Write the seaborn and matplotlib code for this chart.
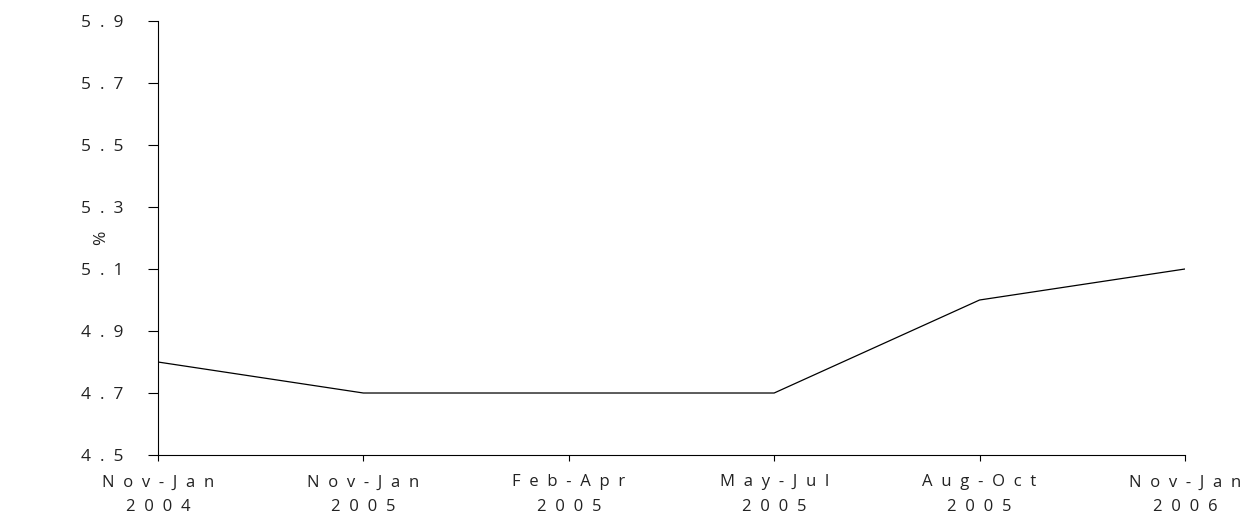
import matplotlib
matplotlib.use("Agg")
import matplotlib.pyplot as plt
import numpy as np
import pandas as pd
import seaborn as sns

periods = ["Nov-Jan", "Nov-Jan", "Feb-Apr", "May-Jul", "Aug-Oct", "Nov-Jan"]
years = ["2004", "2005", "2005", "2005", "2005", "2006"]
rate = [4.8, 4.7, 4.7, 4.7, 5.0, 5.1]
y_ticks = [4.5, 4.7, 4.9, 5.1, 5.3, 5.5, 5.7, 5.9]


def spaced(s):
    # the original draws its labels with wide letter spacing
    return "  ".join(s)


df = pd.DataFrame({"pos": np.arange(len(rate)), "rate": rate})

sns.set_style("white")
plt.rcParams["font.family"] = ["Open Sans", "DejaVu Sans"]

fig = plt.figure(figsize=(12.4, 5.17), dpi=100)
ax = fig.add_axes([0.1274, 0.1199, 0.8282, 0.8395])

sns.lineplot(data=df, x="pos", y="rate", ax=ax, color="black", linewidth=0.9)

ax.set_xlim(0, len(rate) - 1)
ax.set_ylim(4.5, 5.9)
ax.set_xticks(df["pos"])
ax.set_xticklabels([spaced(p) + "\n" + spaced(y) for p, y in zip(periods, years)],
                   fontsize=12, color="#222222", linespacing=1.75)
ax.set_yticks(y_ticks)
ax.set_yticklabels([spaced(f"{v:.1f}") for v in y_ticks], fontsize=12.5, color="#222222")
ax.set_xlabel("")
ax.set_ylabel("%", fontsize=12.5, color="#222222")
ax.yaxis.set_label_coords(-0.048, 0.5)

for side in ["top", "right"]:
    ax.spines[side].set_visible(False)
for side in ["left", "bottom"]:
    ax.spines[side].set_color("black")
    ax.spines[side].set_linewidth(0.8)

ax.tick_params(axis="y", direction="out", length=7, width=0.8, color="black", pad=18, left=True)
ax.tick_params(axis="x", direction="out", length=4, width=0.8, color="black", pad=10, bottom=True)

fig.savefig("out.png", dpi=100)
